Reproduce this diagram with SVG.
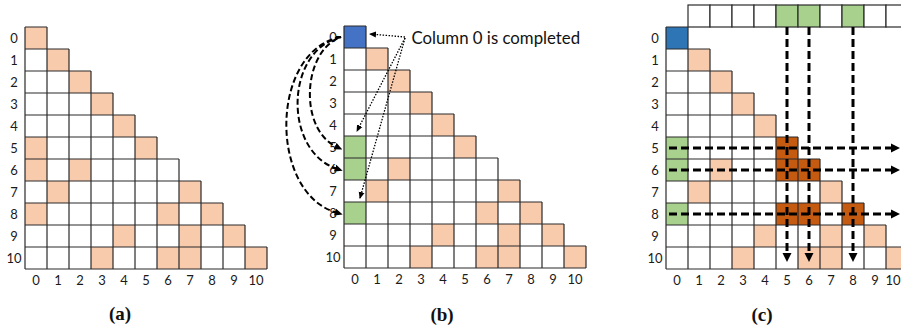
<svg xmlns="http://www.w3.org/2000/svg" xmlns:xlink="http://www.w3.org/1999/xlink" width="901" height="332" viewBox="0 0 901 332">
<style>
.lbl{font-family:Lato,"Liberation Sans",sans-serif;font-size:13px;fill:#1a1a1a;text-anchor:middle}
.cap{font-family:"Liberation Serif",serif;font-weight:bold;font-size:19px;fill:#111;text-anchor:middle}
.note{font-family:Lato,"Liberation Sans",sans-serif;font-size:16.8px;fill:#111}
.grid{fill:none;stroke:#2b2b2b;stroke-width:1.2}
.pe{fill:#F8CBAD}
.gr{fill:#A9D18E}
.dk{fill:#C55A11}
.cell{stroke:#2b2b2b;stroke-width:1.2}
.thick{fill:none;stroke:#000;stroke-width:3;stroke-dasharray:8 4}
.curve{fill:none;stroke:#000;stroke-width:2;stroke-dasharray:6 3}
.dot{fill:none;stroke:#000;stroke-width:1.3;stroke-dasharray:1.5 1.5}
</style>
<defs>
<path id="tri" class="grid" d="M0,0h22M0,22h44M0,44h66M0,66h88M0,88h110M0,110h132M0,132h154M0,154h176M0,176h198M0,198h220M0,220h242M0,242h242M0,0v242M22,0v242M44,22v220M66,44v198M88,66v176M110,88v154M132,110v132M154,132v110M176,154v88M198,176v66M220,198v44M242,220v22"/>
<g id="common">
<rect class="pe" x="22" y="22" width="22" height="22"/>
<rect class="pe" x="44" y="44" width="22" height="22"/>
<rect class="pe" x="66" y="66" width="22" height="22"/>
<rect class="pe" x="88" y="88" width="22" height="22"/>
<rect class="pe" x="44" y="132" width="22" height="22"/>
<rect class="pe" x="22" y="154" width="22" height="22"/>
<rect class="pe" x="154" y="154" width="22" height="22"/>
<rect class="pe" x="88" y="198" width="22" height="22"/>
<rect class="pe" x="154" y="198" width="22" height="22"/>
<rect class="pe" x="198" y="198" width="22" height="22"/>
<rect class="pe" x="66" y="220" width="22" height="22"/>
<rect class="pe" x="132" y="220" width="22" height="22"/>
<rect class="pe" x="154" y="220" width="22" height="22"/>
<rect class="pe" x="220" y="220" width="22" height="22"/>
</g>
<marker id="ahC" markerUnits="userSpaceOnUse" markerWidth="9" markerHeight="10" refX="0" refY="5" orient="auto"><path d="M0,0.5L9,5L0,9.5z" fill="#000"/></marker>
<marker id="ahB" markerUnits="userSpaceOnUse" markerWidth="8" markerHeight="8" refX="1" refY="4" orient="auto"><path d="M0,0.5L8,4L0,7.5z" fill="#000"/></marker>
<marker id="ahD" markerUnits="userSpaceOnUse" markerWidth="7" markerHeight="7" refX="6" refY="3.5" orient="auto"><path d="M0,0.5L7,3.5L0,6.5z" fill="#000"/></marker>
</defs>

<g id="panel-a">
<g transform="translate(25,27)">
<use xlink:href="#common"/>
<rect class="pe" x="0" y="0" width="22" height="22"/>
<rect class="pe" x="110" y="110" width="22" height="22"/>
<rect class="pe" x="176" y="176" width="22" height="22"/>
<rect class="pe" x="0" y="110" width="22" height="22"/>
<rect class="pe" x="0" y="132" width="22" height="22"/>
<rect class="pe" x="0" y="176" width="22" height="22"/>
<rect class="pe" x="132" y="176" width="22" height="22"/>
<use xlink:href="#tri"/>
</g>
<g class="lbl">
<text x="14" y="42.7">0</text><text x="14" y="64.7">1</text><text x="14" y="86.7">2</text><text x="14" y="108.7">3</text><text x="14" y="130.7">4</text><text x="14" y="152.7">5</text><text x="14" y="174.7">6</text><text x="14" y="196.7">7</text><text x="14" y="218.7">8</text><text x="14" y="240.7">9</text><text x="14" y="262.7">10</text>
<text x="36" y="285">0</text><text x="58" y="285">1</text><text x="80" y="285">2</text><text x="102" y="285">3</text><text x="124" y="285">4</text><text x="146" y="285">5</text><text x="168" y="285">6</text><text x="190" y="285">7</text><text x="212" y="285">8</text><text x="234" y="285">9</text><text x="256" y="285">10</text>
</g>
<text class="cap" x="120" y="320">(a)</text>
</g>

<g id="panel-b">
<g transform="translate(344,26)">
<use xlink:href="#common"/>
<rect fill="#4472C4" x="0" y="0" width="22" height="22"/>
<rect class="pe" x="110" y="110" width="22" height="22"/>
<rect class="pe" x="176" y="176" width="22" height="22"/>
<rect class="gr" x="0" y="110" width="22" height="22"/>
<rect class="gr" x="0" y="132" width="22" height="22"/>
<rect class="gr" x="0" y="176" width="22" height="22"/>
<rect class="pe" x="132" y="176" width="22" height="22"/>
<use xlink:href="#tri"/>
</g>
<g class="lbl">
<text x="333" y="41.7">0</text><text x="333" y="63.7">1</text><text x="333" y="85.7">2</text><text x="333" y="107.7">3</text><text x="333" y="129.7">4</text><text x="333" y="151.7">5</text><text x="333" y="173.7">6</text><text x="333" y="195.7">7</text><text x="333" y="217.7">8</text><text x="333" y="239.7">9</text><text x="333" y="261.7">10</text>
<text x="355" y="284">0</text><text x="377" y="284">1</text><text x="399" y="284">2</text><text x="421" y="284">3</text><text x="443" y="284">4</text><text x="465" y="284">5</text><text x="487" y="284">6</text><text x="509" y="284">7</text><text x="531" y="284">8</text><text x="553" y="284">9</text><text x="575" y="284">10</text>
</g>
<text class="note" x="411.5" y="44">Column 0 is completed</text>
<text class="cap" x="442" y="321">(b)</text>
</g>

<g id="panel-c">
<g transform="translate(666,27)">
<rect class="cell" fill="#fff" x="22" y="-22" width="22" height="22"/>
<rect class="cell" fill="#fff" x="44" y="-22" width="22" height="22"/>
<rect class="cell" fill="#fff" x="66" y="-22" width="22" height="22"/>
<rect class="cell" fill="#fff" x="88" y="-22" width="22" height="22"/>
<rect class="cell gr" x="110" y="-22" width="22" height="22"/>
<rect class="cell gr" x="132" y="-22" width="22" height="22"/>
<rect class="cell" fill="#fff" x="154" y="-22" width="22" height="22"/>
<rect class="cell gr" x="176" y="-22" width="22" height="22"/>
<rect class="cell" fill="#fff" x="198" y="-22" width="22" height="22"/>
<rect class="cell" fill="#fff" x="220" y="-22" width="22" height="22"/>
<use xlink:href="#common"/>
<rect fill="#2E75B6" x="0" y="0" width="22" height="22"/>
<rect class="pe" x="154" y="154" width="22" height="22"/>
<rect class="gr" x="0" y="110" width="22" height="22"/>
<rect class="gr" x="0" y="132" width="22" height="22"/>
<rect class="gr" x="0" y="176" width="22" height="22"/>
<rect class="dk" x="110" y="110" width="22" height="22"/>
<rect class="dk" x="110" y="132" width="22" height="22"/>
<rect class="dk" x="132" y="132" width="22" height="22"/>
<rect class="dk" x="110" y="176" width="22" height="22"/>
<rect class="dk" x="132" y="176" width="22" height="22"/>
<rect class="dk" x="176" y="176" width="22" height="22"/>
<use xlink:href="#tri"/>
</g>
<g class="lbl">
<text x="655" y="42.7">0</text><text x="655" y="64.7">1</text><text x="655" y="86.7">2</text><text x="655" y="108.7">3</text><text x="655" y="130.7">4</text><text x="655" y="152.7">5</text><text x="655" y="174.7">6</text><text x="655" y="196.7">7</text><text x="655" y="218.7">8</text><text x="655" y="240.7">9</text><text x="655" y="262.7">10</text>
<text x="677" y="285">0</text><text x="699" y="285">1</text><text x="721" y="285">2</text><text x="743" y="285">3</text><text x="765" y="285">4</text><text x="787" y="285">5</text><text x="809" y="285">6</text><text x="831" y="285">7</text><text x="853" y="285">8</text><text x="875" y="285">9</text><text x="893" y="285">10</text>
</g>
<text class="cap" x="762" y="321">(c)</text>
</g>

<g id="connectors">
<path class="curve" d="M336,37 L341,37 C303,50 298,128 336,146.5" marker-end="url(#ahB)"/>
<path class="curve" d="M341,37 C285,50 283,150 336,168.5" marker-end="url(#ahB)"/>
<path class="curve" d="M341,37 C270,50 268,192 336,212.5" marker-end="url(#ahB)"/>
<path class="dot" d="M405,37 L370,34" marker-end="url(#ahD)"/>
<path class="dot" d="M405,38 L357,131" marker-end="url(#ahD)"/>
<path class="dot" d="M405,38 L360,198" marker-end="url(#ahD)"/>
<path class="thick" d="M787,27 V253" marker-end="url(#ahC)"/>
<path class="thick" d="M809,27 V253" marker-end="url(#ahC)"/>
<path class="thick" d="M853,27 V253" marker-end="url(#ahC)"/>
<path class="thick" d="M669,148 H891" marker-end="url(#ahC)"/>
<path class="thick" d="M669,170 H891" marker-end="url(#ahC)"/>
<path class="thick" d="M669,214 H891" marker-end="url(#ahC)"/>
</g>
</svg>
